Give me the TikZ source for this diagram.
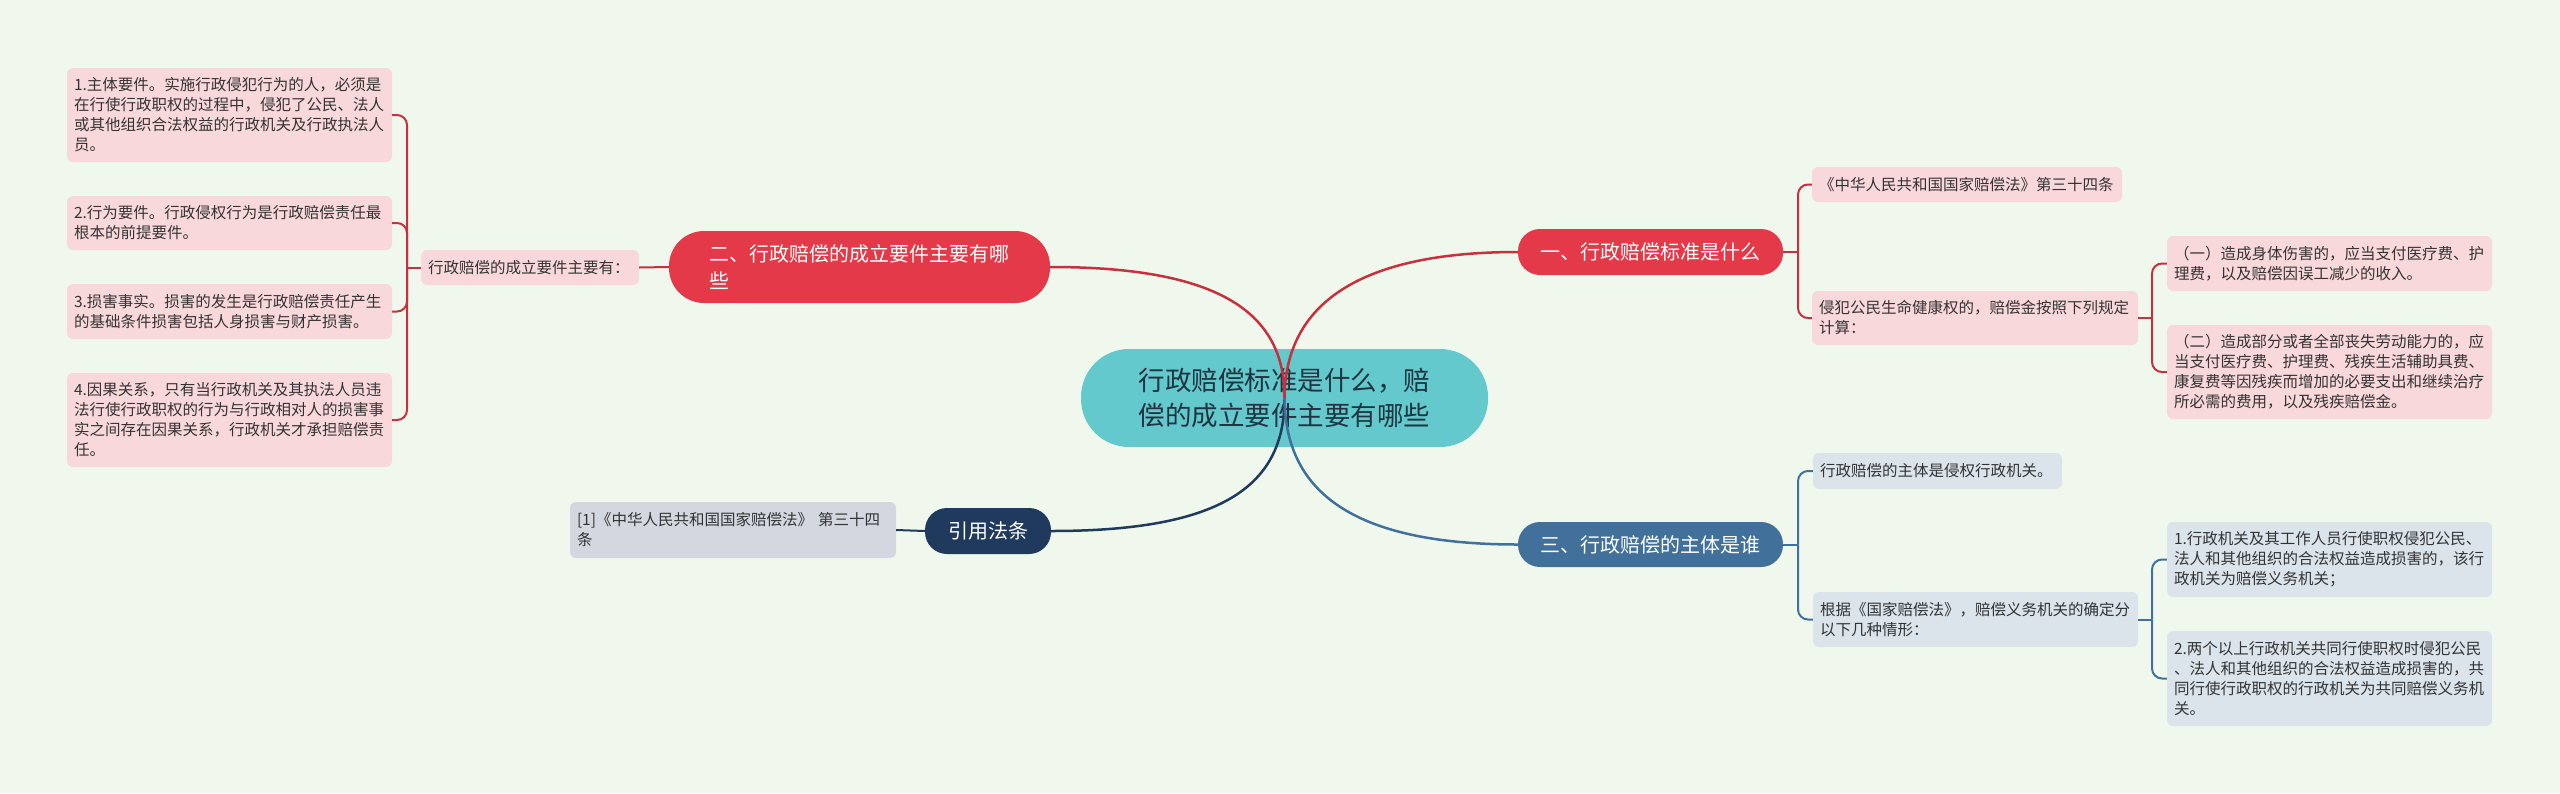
\documentclass[tikz,border=0pt]{standalone}
\usepackage{fontspec}
\setmainfont{Noto Sans CJK SC}
\definecolor{bg}{HTML}{F0F8EE}
\definecolor{redmain}{HTML}{E43948}
\definecolor{redline}{HTML}{C7303D}
\definecolor{pinkbox}{HTML}{F9D8DB}
\definecolor{tealc}{HTML}{63C9CD}
\definecolor{navy}{HTML}{1F3A5D}
\definecolor{graybox}{HTML}{D3D7DF}
\definecolor{steel}{HTML}{41719A}
\definecolor{bluebox}{HTML}{DCE4EB}
\definecolor{txt}{HTML}{333333}
\definecolor{ctxt}{HTML}{1E3440}
\tikzset{
  leaf/.style={rectangle, rounded corners=6pt, inner xsep=7pt, inner ysep=0pt,
    font=\fontsize{15.5}{20}\selectfont, text=txt, align=left, anchor=center},
  pinkleaf/.style={leaf, fill=pinkbox},
  blueleaf/.style={leaf, fill=bluebox},
  grayleaf/.style={leaf, fill=graybox},
  topic/.style={rectangle, rounded corners=22pt, inner xsep=10pt, inner ysep=0pt, text=white,
    font=\fontsize{20}{27}\selectfont, align=center, minimum height=46pt},
  conn/.style={line width=2pt},
  bconn/.style={line width=2pt, rounded corners=10pt},
  mainconn/.style={line width=2.5pt},
}
\begin{document}
\begin{tikzpicture}[x=1pt,y=-1pt]
\fill[bg] (0,0) rectangle (2560,793);
\useasboundingbox (0,0) rectangle (2560,793);

% left leaves
\node[pinkleaf, text width=311pt, minimum height=94pt] (L1) at (229.5,115) {1.主体要件。实施行政侵犯行为的人，必须是\\在行使行政职权的过程中，侵犯了公民、法人\\或其他组织合法权益的行政机关及行政执法人\\员。};
\node[pinkleaf, text width=311pt, minimum height=54pt] (L2) at (229.5,223) {2.行为要件。行政侵权行为是行政赔偿责任最\\根本的前提要件。};
\node[pinkleaf, text width=311pt, minimum height=55pt] (L3) at (229.5,311.5) {3.损害事实。损害的发生是行政赔偿责任产生\\的基础条件损害包括人身损害与财产损害。};
\node[pinkleaf, text width=311pt, minimum height=94pt] (L4) at (229.5,420) {4.因果关系，只有当行政机关及其执法人员违\\法行使行政职权的行为与行政相对人的损害事\\实之间存在因果关系，行政机关才承担赔偿责\\任。};
\node[pinkleaf, text width=204pt, minimum height=35pt] (LP) at (530,267.5) {行政赔偿的成立要件主要有：};

% topic 2
\node[topic, rounded corners=35pt, fill=redmain, align=left, text width=300pt, minimum width=381pt, minimum height=72pt] (N2) at (859.5,267) {二、行政赔偿的成立要件主要有哪\\些};

% reference
\node[grayleaf, text width=312pt, minimum height=56pt] (RL) at (733,530) {[1]《中华人民共和国国家赔偿法》 第三十四\\条};
\node[topic, fill=navy, minimum width=126pt] (R) at (988,531) {引用法条};

% topic 1
\node[topic, fill=redmain, minimum width=265pt] (N1) at (1650.5,252) {一、行政赔偿标准是什么};
\node[pinkleaf, text width=296pt, minimum height=35pt] (A1) at (1967,184.5) {《中华人民共和国国家赔偿法》第三十四条};
\node[pinkleaf, text width=312pt, minimum height=54pt] (A2) at (1975,318) {侵犯公民生命健康权的，赔偿金按照下列规定\\计算：};
\node[pinkleaf, text width=311pt, minimum height=55pt] (A21) at (2329.5,263.5) {（一）造成身体伤害的，应当支付医疗费、护\\理费，以及赔偿因误工减少的收入。};
\node[pinkleaf, text width=311pt, minimum height=94pt] (A22) at (2329.5,372) {（二）造成部分或者全部丧失劳动能力的，应\\当支付医疗费、护理费、残疾生活辅助具费、\\康复费等因残疾而增加的必要支出和继续治疗\\所必需的费用，以及残疾赔偿金。};

% topic 3
\node[topic, fill=steel, minimum width=265pt, minimum height=45pt] (N3) at (1650.5,544.5) {三、行政赔偿的主体是谁};
\node[blueleaf, text width=235pt, minimum height=36pt] (B1) at (1937.5,471) {行政赔偿的主体是侵权行政机关。};
\node[blueleaf, text width=311pt, minimum height=55pt] (B2) at (1975.5,619.5) {根据《国家赔偿法》，赔偿义务机关的确定分\\以下几种情形：};
\node[blueleaf, text width=311pt, minimum height=75pt] (B21) at (2329.5,559.5) {1.行政机关及其工作人员行使职权侵犯公民、\\法人和其他组织的合法权益造成损害的，该行\\政机关为赔偿义务机关；};
\node[blueleaf, text width=311pt, minimum height=95pt] (B22) at (2329.5,678.5) {2.两个以上行政机关共同行使职权时侵犯公民\\、法人和其他组织的合法权益造成损害的，共\\同行使行政职权的行政机关为共同赔偿义务机\\关。};

% center
\node[rectangle, rounded corners=48pt, fill=tealc, text=ctxt, minimum width=407pt, minimum height=98pt,
  font=\fontsize{26.5}{35}\selectfont, align=center] (C) at (1284.5,398) {行政赔偿标准是什么，赔\\偿的成立要件主要有哪些};

% junction coordinates
\coordinate (jL) at (407,267.5);
\coordinate (j1) at (1798,252);
\coordinate (j12) at (2152,318);
\coordinate (j3) at (1798,544.5);
\coordinate (j32) at (2152,619.5);

% left bracket
\draw[conn, redline] (LP.west) -- (jL);
\foreach \n in {L1,L2,L3,L4} \draw[bconn, redline] (jL) |- (\n.east);
\draw[conn, redline] (N2.west) -- (LP.east);
\draw[conn, navy] (R.west) -- (RL.east);

% right brackets
\draw[conn, redline] (N1.east) -- (j1);
\foreach \n in {A1,A2} \draw[bconn, redline] (j1) |- (\n.west);
\draw[conn, redline] (A2.east) -- (j12);
\foreach \n in {A21,A22} \draw[bconn, redline] (j12) |- (\n.west);
\draw[conn, steel] (N3.east) -- (j3);
\foreach \n in {B1,B2} \draw[bconn, steel] (j3) |- (\n.west);
\draw[conn, steel] (B2.east) -- (j32);
\foreach \n in {B21,B22} \draw[bconn, steel] (j32) |- (\n.west);

% main curves
\draw[mainconn, redline] (C.center) .. controls (1285,310) and (1215,267) .. (N2.east);
\draw[mainconn, redline] (C.center) .. controls (1285,310) and (1350,252) .. (N1.west);
\draw[mainconn, navy] (C.center) .. controls (1285,490) and (1215,531) .. (R.east);
\draw[mainconn, steel] (C.center) .. controls (1285,490) and (1350,544.5) .. (N3.west);
\end{tikzpicture}
\end{document}
